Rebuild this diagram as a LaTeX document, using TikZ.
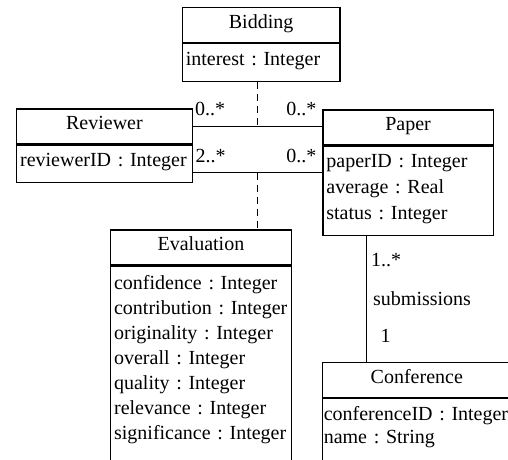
\documentclass[tikz,border=0pt]{standalone}
\usepackage{fontspec}
\setmainfont{Liberation Serif}
\usetikzlibrary{positioning,calc}
\frenchspacing
\hyphenpenalty=10000

\begin{document}
\begin{tikzpicture}[x=1pt,y=-1pt]
\tikzstyle{cls}=[rectangle, draw=black, line width=1.2pt, inner sep=0pt, minimum height=35pt, text height=13pt, text depth=6pt, font=\fontsize{20}{25}\selectfont]
\tikzstyle{attr}=[rectangle, draw=black, line width=1.2pt, inner xsep=3.5pt, inner ysep=0pt, align=left, text height=21.5pt, font=\fontsize{20}{25}\selectfont, execute at end node={\rule[-16pt]{0pt}{0pt}}]
\tikzstyle{open}=[execute at end node={\rule[-34pt]{0pt}{0pt}}]
\tikzstyle{mult}=[inner sep=0pt, font=\fontsize{20}{25}\selectfont]
\tikzstyle{assoc}=[line width=1.2pt]
\tikzstyle{link}=[line width=1.2pt, dash pattern=on 7pt off 5pt]

  \useasboundingbox (0,0) rectangle (508,459);
  \clip (0,0) rectangle (508,459);

  % classes
  \node[cls, anchor=north west, minimum width=157.6pt] (bidT) at (181.7,7) {Bidding};
  \node[attr, below=0pt of bidT, text width=150.6pt] (bidA) {interest : Integer};

  \node[cls, anchor=north west, minimum width=175.7pt] (revT) at (16,108.3) {Reviewer};
  \node[attr, below=0pt of revT, text width=168.7pt] (revA) {reviewerID : Integer};

  \node[cls, anchor=north west, minimum width=170.4pt] (papT) at (322.3,109.3) {Paper};
  \node[attr, below=0pt of papT, text width=163.4pt, font=\fontsize{20}{26}\selectfont] (papA)
    {paperID : Integer\\average : Real\\status : Integer};

  \node[cls, anchor=north west, minimum width=180.7pt] (evalT) at (110,229.3) {Evaluation};
  \node[attr, open, below=0pt of evalT, text width=173.7pt, text height=23.5pt] (evalA)
    {confidence : Integer\\contribution : Integer\\originality : Integer\\overall : Integer\\quality : Integer\\relevance : Integer\\significance : Integer};

  \node[cls, anchor=north west, minimum width=189pt] (confT) at (321.7,361.7) {Conference};
  \node[attr, open, below=0pt of confT, inner xsep=1.5pt, text width=186pt, font=\fontsize{20}{23}\selectfont] (confA)
    {conferenceID : Integer\\name : String};

  % associations
  \coordinate (r0) at (revT.east);
  \coordinate (p0) at (r0 -| papT.west);
  \coordinate (m0) at ($(r0)!0.5!(p0)$);
  \coordinate (r1) at ([yshift=-9pt]revA.east);
  \coordinate (p1) at (r1 -| papA.west);
  \coordinate (m1) at ($(r1)!0.5!(p1)$);
  \coordinate (s0) at ([xshift=44pt]papA.south west);
  \coordinate (s1) at (s0 |- confT.north);

  \draw[assoc] (r0) -- (p0);
  \draw[assoc] (r1) -- (p1);
  \draw[assoc] (s0) -- (s1);
  \draw[link] (m0 |- bidA.south) -- (m0);
  \draw[link] (m1) -- (m1 |- evalT.north);

  % multiplicities
  \node[mult, anchor=base west] (mRevBid) at (195,115) {0..*};
  \node[mult, anchor=base east] (mPapBid) at (316.5,115) {0..*};
  \node[mult, anchor=base west] (mRevEval) at (195.5,162.7) {2..*};
  \node[mult, anchor=base east] (mPapEval) at (316.5,162.7) {0..*};
  \node[mult, anchor=base west] (mPapSub) at (371,266.7) {1..*};
  \node[mult, anchor=base west] (subName) at (373,305) {submissions};
  \node[mult, anchor=base west] (mConfSub) at (380.5,342.7) {1};

\end{tikzpicture}
\end{document}
